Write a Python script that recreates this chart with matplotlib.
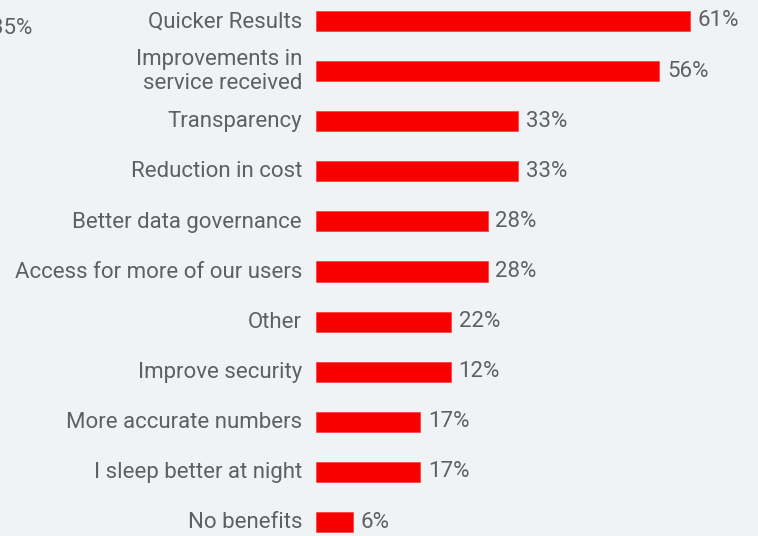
import matplotlib.pyplot as plt

# data
categories = ["Quicker Results", "Improvements in\nservice received", "Transparency",
              "Reduction in cost", "Better data governance", "Access for more of our users",
              "Other", "Improve security", "More accurate numbers",
              "I sleep better at night", "No benefits"]
bar_values = [61, 56, 33, 33, 28, 28, 22, 22, 17, 17, 6]
value_labels = ["61%", "56%", "33%", "33%", "28%", "28%", "22%", "12%", "17%", "17%", "6%"]
stray_label = "35%"

bg = "#eff3f5"
red = "#f70000"
grey = "#606060"

plt.rcParams['font.family'] = ['Roboto', 'DejaVu Sans']

W, H = 758, 536
fig = plt.figure(figsize=(W / 100, H / 100), dpi=100, facecolor=bg)
ax = fig.add_axes([316 / W, 0, 1 - 316 / W, 1])
ax.set_facecolor(bg)

y = list(range(len(categories)))
ax.barh(y, bar_values, height=0.4, color=red, edgecolor="#ff3b3b", linewidth=0.5)

px_per_unit = 6.131
ax.set_xlim(0, (W - 316) / px_per_unit)
step = 50.1
ax.set_ylim(10 + (H - 522) / step, -21 / step)

for i, (v, lab) in enumerate(zip(bar_values, value_labels)):
    ax.annotate(lab, (v, i), xytext=(5.5, 0), textcoords="offset points",
                va="center", ha="left", fontsize=16, color=grey)
    ax.annotate(categories[i], (0, i), xytext=(-10, -0.5), textcoords="offset points",
                va="center", ha="right", fontsize=16, color=grey, linespacing=1.2,
                annotation_clip=False)

fig.text(32 / W, 1 - 29 / H, stray_label, ha="right", va="center", fontsize=16, color=grey)

ax.axis("off")
fig.savefig("out.png", dpi=100, facecolor=bg)
